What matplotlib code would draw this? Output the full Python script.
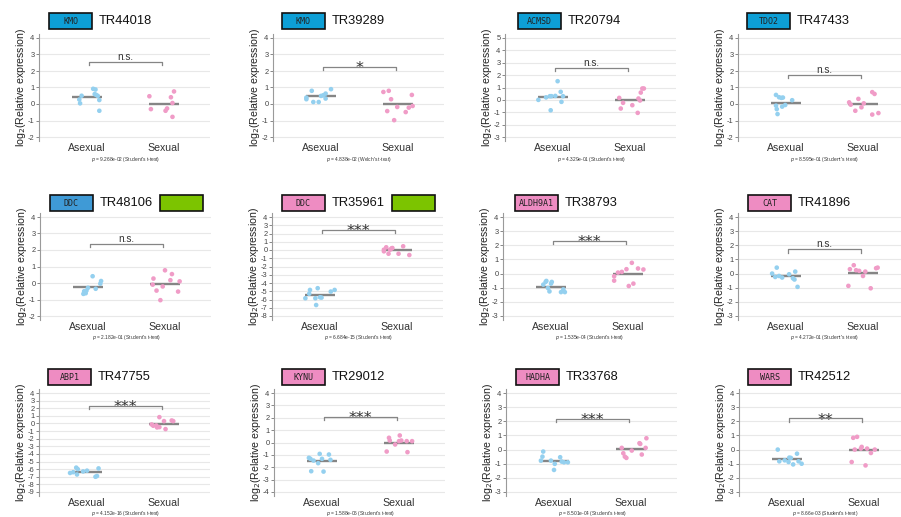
import matplotlib
matplotlib.use('Agg')
import matplotlib.pyplot as plt
from matplotlib.patches import Rectangle
import numpy as np

plt.rcParams['font.family'] = ['Liberation Sans', 'DejaVu Sans']

# ---------------- data ----------------
categories = ['Asexual', 'Sexual']
genes = ['KMO', 'KMO', 'ACMSD', 'TDO2', 'DDC', 'DDC', 'ALDH9A1', 'CAT',
         'ABP1', 'KYNU', 'HADHA', 'WARS']
transcripts = ['TR44018', 'TR39289', 'TR20794', 'TR47433', 'TR48106', 'TR35961',
               'TR38793', 'TR41896', 'TR47755', 'TR29012', 'TR33768', 'TR42512']
gene_colors = ['#0d9fd6', '#0d9fd6', '#0d9fd6', '#0d9fd6', '#3f9ad6', '#ee8cc2',
               '#ee8cc2', '#ee8cc2', '#ee8cc2', '#ee8cc2', '#ee8cc2', '#ee8cc2']
has_green = [False, False, False, False, True, True,
             False, False, False, False, False, False]
y_ticks_range = [(-2, 4), (-2, 4), (-3, 5), (-2, 4), (-2, 4), (-8, 4),
                 (-3, 4), (-3, 4), (-9, 4), (-4, 4), (-3, 4), (-3, 4)]
significance = ['n.s.', '*', 'n.s.', 'n.s.', 'n.s.', '***',
                '***', 'n.s.', '***', '***', '***', '**']
bracket_y = [2.55, 2.27, 2.6, 1.78, 2.38, 2.48, 2.33, 1.72, 2.28, 2.05, 2.17, 2.21]
p_values = ['9.268e-02', '4.838e-02', '4.329e-01', '8.595e-01', '2.182e-01', '6.684e-15',
            '1.535e-04', '4.272e-01', '4.152e-16', '1.588e-06', '8.501e-04', '8.66e-03']
tests = ["Student's t-test", "Welch's t-test", "Student's t-test", "Student's t-test",
         "Student's t-test", "Student's t-test", "Student's t-test", "Student's t-test",
         "Student's t-test", "Student's t-test", "Student's t-test", "Student's t-test"]

asexual_values = [
    [0.50, 0.27, 0.04, 0.92, 0.88, 0.55, 0.60, 0.49, 0.24, -0.41],
    [0.29, 0.39, 0.80, 0.12, 0.12, 0.49, 0.53, 0.33, 0.63, 0.90],
    [0.00, 0.20, 0.30, 0.30, 0.32, 1.51, 0.65, 0.30, -0.16, -0.84],
    [0.55, 0.41, 0.37, 0.39, -0.10, -0.31, -0.61, -0.16, -0.06, 0.23],
    [-0.66, -0.62, -0.46, -0.29, 0.41, -0.35, -0.04, 0.12, -0.50],
    [-5.85, -5.30, -4.84, -5.85, -6.67, -4.63, -5.73, -5.77, -5.04, -4.84],
    [-0.78, -0.59, -0.52, -1.02, -1.26, -0.71, -0.59, -1.31, -1.12, -1.31],
    [0.00, -0.24, 0.42, -0.17, -0.28, -0.05, -0.33, -0.42, 0.14, -0.94],
    [-6.50, -6.40, -5.80, -6.70, -6.20, -7.00, -6.90, -5.90, -6.00, -6.30],
    [-1.24, -1.32, -2.32, -1.46, -1.67, -0.92, -1.32, -2.35, -0.97, -1.40],
    [-0.78, -0.50, -0.14, -1.01, -1.44, -0.54, -0.85, -0.90, -0.90, -0.78],
    [0.00, -0.83, -0.76, -0.57, -0.59, -1.05, -0.29, -0.83, -1.00, -0.88],
]
asexual_jitter = [
    [-0.07, -0.10, -0.09, 0.08, 0.11, 0.12, 0.10, 0.14, 0.16, 0.16],
    [-0.19, -0.19, -0.12, -0.10, -0.03, 0.00, 0.03, 0.06, 0.06, 0.13],
    [-0.19, -0.09, -0.04, -0.02, 0.03, 0.06, 0.10, 0.13, 0.11, -0.03],
    [-0.13, -0.09, -0.06, -0.04, -0.13, -0.12, -0.11, -0.05, -0.01, 0.08],
    [-0.06, -0.03, -0.02, 0.00, 0.06, 0.10, 0.16, 0.17, -0.05],
    [-0.19, -0.14, -0.13, -0.06, -0.05, -0.03, 0.00, 0.02, 0.14, 0.19],
    [-0.10, -0.07, -0.06, -0.04, -0.02, 0.00, 0.01, 0.13, 0.16, 0.18],
    [-0.18, -0.14, -0.12, -0.09, -0.05, 0.04, 0.09, 0.11, 0.12, 0.15],
    [-0.22, -0.18, -0.14, -0.13, 0.00, 0.11, 0.13, 0.15, -0.12, -0.05],
    [-0.17, -0.15, -0.14, -0.11, -0.05, -0.03, 0.00, 0.02, 0.09, 0.11],
    [-0.17, -0.15, -0.14, 0.01, 0.00, 0.08, 0.10, 0.13, 0.18, -0.04],
    [-0.12, -0.10, -0.03, 0.03, 0.05, 0.08, 0.13, 0.15, 0.19, 0.02],
]
sexual_values = [
    [0.47, -0.31, -0.41, -0.27, 0.41, 0.06, 0.76, -0.78],
    [0.73, 0.80, 0.29, -0.43, -0.98, -0.18, -0.49, -0.22, -0.12, 0.55],
    [0.16, -0.24, -0.70, -0.43, -1.05, 0.11, -0.05, 0.59, 0.92, 0.92],
    [0.10, -0.04, -0.41, 0.31, -0.20, 0.04, 0.72, 0.61, -0.64, -0.55],
    [0.27, -0.10, -0.46, -1.04, -0.21, 0.77, 0.17, 0.54, -0.52, 0.10],
    [0.04, 0.33, -0.45, 0.04, 0.24, -0.16, -0.45, 0.45, -0.61, 0.20],
    [-0.19, -0.50, 0.07, 0.12, 0.31, 0.76, -0.88, -0.71, 0.36, 0.29],
    [-0.87, 0.31, 0.59, 0.24, 0.19, -0.17, 0.14, -1.04, 0.38, 0.42],
    [-0.13, -0.30, -0.52, 0.83, -0.48, 0.31, -0.74, 0.39, 0.31, -0.26],
    [-0.73, 0.38, 0.16, -0.16, 0.11, 0.57, 0.16, 0.11, -0.78, 0.11],
    [0.12, -0.26, -0.50, -0.59, -0.07, 0.45, 0.40, -0.35, 0.12, 0.80],
    [-0.88, 0.83, 0.90, 0.00, 0.07, 0.19, -1.12, 0.07, -0.24, 0.00],
]
sexual_jitter = [
    [-0.19, -0.17, 0.02, 0.04, 0.09, 0.11, 0.13, 0.11],
    [-0.19, -0.12, -0.09, -0.14, -0.05, -0.01, 0.10, 0.14, 0.19, 0.18],
    [-0.14, -0.09, -0.12, 0.03, 0.10, 0.11, 0.13, 0.14, 0.16, 0.18],
    [-0.18, -0.16, -0.10, -0.06, -0.02, 0.01, 0.12, 0.15, 0.12, 0.20],
    [-0.15, -0.16, -0.11, -0.06, -0.03, 0.00, 0.07, 0.09, 0.17, 0.19],
    [-0.17, -0.14, -0.11, -0.09, -0.06, -0.17, 0.02, 0.08, 0.16, -0.07],
    [-0.18, -0.18, -0.13, -0.08, -0.02, 0.05, 0.01, 0.07, 0.13, 0.20],
    [-0.19, -0.17, -0.12, -0.09, -0.05, 0.00, 0.03, 0.10, 0.17, 0.19],
    [-0.16, -0.14, -0.09, -0.06, -0.06, 0.00, 0.02, 0.10, 0.12, -0.10],
    [-0.16, -0.13, -0.12, -0.05, 0.00, 0.01, 0.03, 0.10, 0.11, 0.17],
    [-0.12, -0.10, -0.08, -0.06, 0.01, 0.11, 0.12, 0.14, 0.19, 0.20],
    [-0.16, -0.14, -0.09, -0.12, -0.04, -0.03, 0.02, 0.04, 0.09, 0.14],
]

# ---------------- layout (pixels) ----------------
W, H = 901, 517
fig = plt.figure(figsize=(W / 100, H / 100), dpi=100)
fig.patch.set_facecolor('white')

ax_left = [39, 273, 505, 738, 40, 272, 503, 738, 39, 274, 506, 739]
row_top = [34, 213, 389]
row_title_y = [21, 203, 377]
row_p_y = [159, 337, 513]
AX_W, AX_H, PAD = 171, 107, 4
box_left = [49, 282, 518, 747, 50, 282, 515, 748, 48, 282, 516, 748]
BOX_W, BOX_H = 43, 16

col_blue = '#94d0ef'
col_pink = '#f09cc7'
grey = '#858585'


def fig_rect(x, y, w, h):
    return [x / W, 1 - (y + h) / H, w / W, h / H]


for i in range(12):
    row = i // 4
    L = ax_left[i]
    T = row_top[row]
    ax = fig.add_axes(fig_rect(L, T, AX_W, AX_H))
    lo, hi = y_ticks_range[i]
    ppu = (AX_H - 2 * PAD) / (hi - lo)
    ax.set_ylim(lo - PAD / ppu, hi + PAD / ppu)
    left_units = 48 / 77
    ax.set_xlim(1 - left_units, 1 - left_units + AX_W / 77)

    ax.set_yticks(np.arange(lo, hi + 1))
    ax.set_yticklabels([str(v) for v in range(lo, hi + 1)])
    for v in range(lo, hi + 1):
        ax.axhline(v, color='#e8e8e8', lw=0.8, zorder=0)
    ax.set_xticks([1, 2])
    ax.set_xticklabels(categories)
    ax.tick_params(axis='x', length=0, pad=1.5, labelsize=7.6, colors='#333333')
    ax.tick_params(axis='y', length=2.2, width=0.7, pad=1, labelsize=5.4,
                   colors='#888888', labelcolor='#444444')
    for s in ['top', 'right', 'bottom']:
        ax.spines[s].set_visible(False)
    ax.spines['left'].set_color('#9a9a9a')
    ax.spines['left'].set_linewidth(0.8)
    ax.set_facecolor('white')

    # points and means
    for c, vals, jit, col in [(1, asexual_values[i], asexual_jitter[i], col_blue),
                              (2, sexual_values[i], sexual_jitter[i], col_pink)]:
        vals = np.array(vals)
        xs = c + np.array(jit)
        m = vals.mean()
        ax.plot([c - 0.2, c + 0.2], [m, m], color=grey, lw=1.7, zorder=2,
                solid_capstyle='butt')
        ax.scatter(xs, vals, s=11, color=col, edgecolors='none', zorder=3)

    # bracket
    by = bracket_y[i]
    d = 3.3 / ppu
    ax.plot([1.03, 1.03, 1.98, 1.98], [by - d, by, by, by - d], color=grey, lw=0.9,
            zorder=4)
    if significance[i] == 'n.s.':
        ax.annotate('n.s.', (1.5, by), xytext=(0, 1.5), textcoords='offset points',
                    ha='center', va='baseline', fontsize=7.2, color='#333333')
    else:
        ax.annotate(significance[i], (1.5, by), xytext=(0, -4.5),
                    textcoords='offset points', ha='center', va='baseline',
                    fontsize=11.5, color='#333333', family='DejaVu Sans')

    # y label
    fig.text((L - 18) / W, 1 - (T + AX_H / 2) / H, r'log$_2$(Relative expression)',
             rotation=90, ha='center', va='center', fontsize=7.6, color='#222222')

    # p-value text
    fig.text((L + 48 + 38.5) / W, 1 - row_p_y[row] / H,
             r'$p$ = ' + p_values[i] + ' (' + tests[i] + ')',
             ha='center', va='center', fontsize=3.5, color='#333333')

    # title: gene box + transcript id (+ green box)
    bx = box_left[i]
    by_c = row_title_y[row]
    fig.patches.append(Rectangle((bx / W, 1 - (by_c + BOX_H / 2) / H), BOX_W / W, BOX_H / H,
                                 transform=fig.transFigure, facecolor=gene_colors[i],
                                 edgecolor='#111111', lw=1.2, figure=fig))
    fig.text((bx + BOX_W / 2) / W, 1 - by_c / H, genes[i], ha='center', va='center',
             fontsize=6, family='DejaVu Sans Mono', color='#222222')
    fig.text((bx + BOX_W + 7) / W, 1 - by_c / H, transcripts[i], ha='left', va='center',
             fontsize=9.3, color='#111111')
    if has_green[i]:
        fig.patches.append(Rectangle(((bx + 110) / W, 1 - (by_c + BOX_H / 2) / H),
                                     BOX_W / W, BOX_H / H, transform=fig.transFigure,
                                     facecolor='#7cc400', edgecolor='#111111', lw=1.2,
                                     figure=fig))

fig.savefig('out.png', dpi=100, facecolor='white')
